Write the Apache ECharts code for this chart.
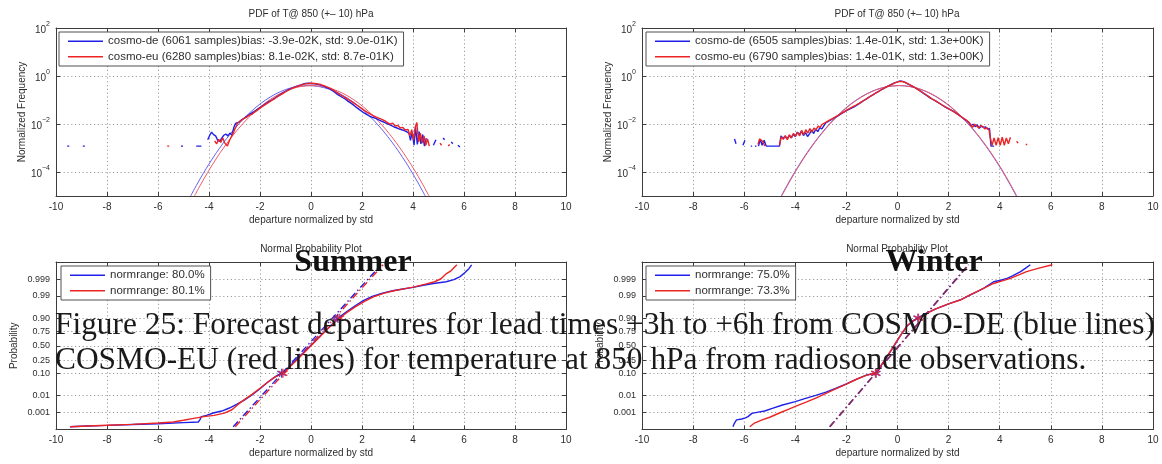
<!DOCTYPE html>
<html>
<head>
<meta charset="utf-8">
<script src="https://cdn.jsdelivr.net/npm/echarts@6/dist/echarts.min.js"></script>
<style>
  html, body { margin: 0; padding: 0; background: #ffffff; }
  #chart { width: 1162px; height: 464px; }
</style>
</head>
<body>
<div id="chart"></div>
<script>
// ---- text ----
const pdfTitle = 'PDF of T@ 850 (+\u2013 10) hPa';
const nppTitle = 'Normal Probability Plot';
const xName = 'departure normalized by std';
const pdfYName = 'Normalized Frequency';
const nppYName = 'Probability';
const seasonNames = ['Summer', 'Winter'];
const captionLines = [
  'Figure 25: Forecast departures for lead times +3h to +6h from COSMO-DE (blue lines)',
  'COSMO-EU (red lines) for temperature at 850 hPa from radiosonde observations.'
];
const summerPdfNames = ['cosmo-de (6061 samples)bias: -3.9e-02K, std: 9.0e-01K)', 'cosmo-eu (6280 samples)bias: 8.1e-02K, std: 8.7e-01K)'];
const winterPdfNames = ['cosmo-de (6505 samples)bias: 1.4e-01K, std: 1.3e+00K)', 'cosmo-eu (6790 samples)bias: 1.4e-01K, std: 1.3e+00K)'];
const summerNppNames = ['normrange: 80.0%', 'normrange: 80.1%'];
const winterNppNames = ['normrange: 75.0%', 'normrange: 73.3%'];

// probability tick labels and their normal quantiles
const probTicks = ['0.001', '0.01', '0.10', '0.25', '0.50', '0.75', '0.90', '0.99', '0.999'];
const probTickZ = [-3.0902, -2.3263, -1.2816, -0.6745, 0, 0.6745, 1.2816, 2.3263, 3.0902];

// ---- PDF panels: [departure, normalized frequency]; null breaks the line ----
const summerDePdf = [
  [-9.56,1.2e-3],[-9.48,1.2e-3],[-9.4,null],
  [-8.95,1.2e-3],[-8.87,1.2e-3],[-8.8,null],
  [-5.1,1.2e-3],[-5.02,1.2e-3],[-4.9,null],
  [-4.5,1.2e-3],[-4.3,1.2e-3],[-4.2,null],
  [-4.05,2.2e-3],[-3.97,3.4e-3],[-3.9,4.6e-3],[-3.82,3.6e-3],[-3.74,3.2e-3],[-3.66,2.1e-3],[-3.58,1.9e-3],[-3.5,2.6e-3],
  [-3.42,3.4e-3],[-3.34,3.8e-3],[-3.26,3.2e-3],[-3.18,4.2e-3],[-3.1,3.4e-3],[-3.02,7.5e-3],[-2.96,1.05e-2],[-2.9,9e-3],
  [-2.82,1.2e-2],[-2.72,1.5e-2],[-2.62,1.75e-2],[-2.52,2.1e-2],[-2.42,2.5e-2],[-2.32,2.9e-2],[-2.22,3.4e-2],[-2.12,4.0e-2],
  [-2.02,4.7e-2],[-1.9,5.7e-2],[-1.78,7.0e-2],[-1.66,8.5e-2],[-1.54,0.1],[-1.42,0.12],[-1.3,0.145],[-1.18,0.175],
  [-1.06,0.21],[-0.94,0.25],[-0.82,0.29],[-0.7,0.33],[-0.58,0.37],[-0.46,0.41],[-0.34,0.45],[-0.22,0.49],[-0.1,0.5],
  [0.02,0.49],[0.14,0.47],[0.26,0.45],[0.38,0.42],[0.5,0.38],[0.62,0.33],[0.74,0.29],[0.86,0.24],[0.98,0.19],
  [1.1,0.155],[1.22,0.13],[1.34,0.11],[1.46,0.088],[1.58,0.072],[1.7,0.058],[1.82,0.046],[1.94,0.037],[2.06,0.03],
  [2.18,0.025],[2.3,0.021],[2.42,0.019],[2.54,0.017],[2.66,0.015],[2.78,0.013],[2.9,0.0115],[3.02,0.0098],[3.14,0.0088],
  [3.26,0.0075],[3.38,0.0068],[3.5,0.006],[3.62,0.0055],[3.74,0.0048],[3.84,0.0042],[3.9,0.0021],[3.97,0.0045],
  [4.04,0.0013],[4.1,0.0075],[4.17,0.0014],[4.24,0.0048],[4.31,0.0015],[4.38,0.0036],[4.45,0.0012],[4.52,0.0026],[4.58,null],
  [4.8,1.3e-3],[4.9,2.2e-3],[4.95,null],
  [5.18,2.6e-3],[5.24,2.2e-3],[5.3,null],
  [5.5,1.8e-3],[5.56,1.5e-3],[5.6,null],
  [5.76,1.3e-3],[5.84,1.1e-3]
];
const summerEuPdf = [
  [-5.64,1.2e-3],[-5.56,1.2e-3],[-5.5,null],
  [-3.78,2.0e-3],[-3.7,1.5e-3],[-3.62,2.3e-3],[-3.54,1.7e-3],[-3.46,2.6e-3],[-3.38,1.6e-3],[-3.28,1.2e-3],[-3.2,2.0e-3],
  [-3.12,3.0e-3],[-3.04,4.4e-3],[-2.96,7e-3],[-2.88,1.1e-2],[-2.8,1.25e-2],[-2.7,1.5e-2],[-2.6,1.75e-2],[-2.5,2.0e-2],
  [-2.4,2.4e-2],[-2.3,2.6e-2],[-2.2,3.2e-2],[-2.1,3.8e-2],[-2.0,4.6e-2],[-1.9,5.4e-2],[-1.78,6.6e-2],[-1.66,8.0e-2],
  [-1.54,9.6e-2],[-1.42,0.115],[-1.3,0.14],[-1.18,0.168],[-1.06,0.2],[-0.94,0.24],[-0.82,0.28],[-0.7,0.32],[-0.58,0.36],
  [-0.46,0.4],[-0.34,0.44],[-0.22,0.47],[-0.1,0.49],[0.02,0.5],[0.14,0.49],[0.26,0.47],[0.38,0.44],[0.5,0.4],
  [0.62,0.355],[0.74,0.31],[0.86,0.265],[0.98,0.22],[1.1,0.18],[1.22,0.15],[1.34,0.125],[1.46,0.104],[1.58,0.087],
  [1.7,0.072],[1.82,0.059],[1.94,0.048],[2.06,0.039],[2.18,0.032],[2.3,0.027],[2.42,0.023],[2.54,0.02],[2.66,0.0175],
  [2.78,0.0155],[2.9,0.0135],[3.0,0.0115],[3.1,0.0098],[3.2,0.0108],[3.3,0.0082],[3.4,0.0088],[3.5,0.0068],[3.6,0.0072],
  [3.7,0.0056],[3.8,0.006],[3.88,0.0032],[3.95,0.0058],[4.02,0.0022],[4.09,0.0075],[4.15,0.0115],[4.22,0.0018],
  [4.29,0.0042],[4.36,0.0016],[4.43,0.0032],[4.5,0.0013],[4.57,0.0024],[4.64,0.0012],[4.7,null],
  [5.06,1.6e-3],[5.12,1.3e-3],[5.18,null],
  [5.38,1.2e-3],[5.44,1.4e-3]
];
const summerDeFit = [
  [-4.72,1e-5],[-4.5,2.7e-5],[-4.2,9.7e-5],[-3.8,4.6e-4],[-3.4,1.84e-3],[-3.0,6.3e-3],[-2.6,1.84e-2],[-2.2,4.6e-2],
  [-1.8,9.7e-2],[-1.4,0.176],[-1.0,0.271],[-0.6,0.356],[-0.12,0.399],[0.3,0.365],[0.7,0.285],[1.1,0.19],[1.5,0.107],
  [1.9,0.052],[2.3,2.13e-2],[2.7,7.5e-3],[3.1,2.24e-3],[3.5,5.7e-4],[3.9,1.24e-4],[4.2,3.5e-5],[4.48,1e-5]
];
const summerEuFit = [
  [-4.57,1e-5],[-4.35,2.7e-5],[-4.05,9.7e-5],[-3.65,4.6e-4],[-3.25,1.84e-3],[-2.85,6.3e-3],[-2.45,1.84e-2],[-2.05,4.6e-2],
  [-1.65,9.7e-2],[-1.25,0.176],[-0.85,0.271],[-0.45,0.356],[0.03,0.399],[0.45,0.365],[0.85,0.285],[1.25,0.19],[1.65,0.107],
  [2.05,0.052],[2.45,2.13e-2],[2.85,7.5e-3],[3.25,2.24e-3],[3.65,5.7e-4],[4.05,1.24e-4],[4.35,3.5e-5],[4.63,1e-5]
];
const winterDePdf = [
  [-6.38,2.4e-3],[-6.32,1.5e-3],[-6.25,null],
  [-6.05,1.3e-3],[-5.97,2.1e-3],[-5.9,null],
  [-5.74,1.2e-3],[-5.69,1.2e-3],[-5.64,null],
  [-5.58,1.2e-3],[-5.52,1.2e-3],[-5.47,null],
  [-5.44,1.2e-3],[-5.37,2.3e-3],[-5.3,1.3e-3],[-5.22,2.1e-3],[-5.14,1.2e-3],[-4.98,1.2e-3],[-4.8,1.2e-3],[-4.62,1.2e-3],
  [-4.56,3.2e-3],[-4.48,2.5e-3],[-4.4,3.1e-3],[-4.32,2.4e-3],[-4.24,3.3e-3],[-4.16,2.7e-3],[-4.08,3.7e-3],[-4.0,3.0e-3],
  [-3.92,4.6e-3],[-3.84,3.6e-3],[-3.76,5.0e-3],[-3.68,3.3e-3],[-3.6,4.4e-3],[-3.52,3.0e-3],[-3.44,4.0e-3],[-3.36,5.6e-3],
  [-3.28,4.0e-3],[-3.2,6.2e-3],[-3.12,4.8e-3],[-3.04,7.0e-3],[-2.96,6.2e-3],[-2.88,8.6e-3],[-2.8,1.15e-2],[-2.7,1.3e-2],
  [-2.6,1.5e-2],[-2.5,1.75e-2],[-2.4,2.0e-2],[-2.3,2.3e-2],[-2.2,2.7e-2],[-2.1,3.1e-2],[-2.0,3.6e-2],[-1.9,4.1e-2],
  [-1.8,4.6e-2],[-1.7,5.2e-2],[-1.56,6.4e-2],[-1.44,7.8e-2],[-1.32,9.5e-2],[-1.2,0.115],[-1.08,0.14],[-0.96,0.165],
  [-0.84,0.2],[-0.72,0.235],[-0.6,0.28],[-0.48,0.33],[-0.36,0.39],[-0.24,0.45],[-0.12,0.52],[0,0.57],[0.1,0.62],
  [0.2,0.6],[0.3,0.54],[0.42,0.46],[0.54,0.4],[0.66,0.34],[0.78,0.28],[0.9,0.235],[1.02,0.19],[1.14,0.155],
  [1.26,0.125],[1.38,0.105],[1.5,0.09],[1.62,0.075],[1.74,0.062],[1.86,0.052],[1.98,0.044],[2.1,0.038],[2.22,0.032],
  [2.34,0.026],[2.46,0.021],[2.58,0.017],[2.7,0.014],[2.8,0.0115],[2.88,0.0085],[2.96,0.0098],[3.04,0.0078],
  [3.12,0.0092],[3.2,0.0066],[3.28,0.0082],[3.36,0.0072],[3.44,0.0076],[3.52,0.0062],[3.6,0.0065],[3.66,0.0012],[3.78,0.0012]
];
const winterEuPdf = [
  [-5.46,1.4e-3],[-5.4,2.4e-3],[-5.33,2.6e-3],[-5.26,1.8e-3],[-5.2,1.2e-3],[-5.14,null],
  [-4.62,1.3e-3],[-4.55,2.9e-3],[-4.47,2.3e-3],[-4.39,3.3e-3],[-4.31,2.2e-3],[-4.23,3.6e-3],[-4.15,2.6e-3],[-4.07,4.1e-3],
  [-3.99,3.1e-3],[-3.91,4.5e-3],[-3.83,3.2e-3],[-3.75,5.4e-3],[-3.67,3.6e-3],[-3.59,5.8e-3],[-3.51,4.2e-3],[-3.43,6.4e-3],
  [-3.35,4.6e-3],[-3.27,6.8e-3],[-3.19,5.6e-3],[-3.11,8.2e-3],[-3.03,7.2e-3],[-2.95,9.6e-3],[-2.86,1.1e-2],[-2.76,1.25e-2],
  [-2.66,1.45e-2],[-2.56,1.65e-2],[-2.46,1.9e-2],[-2.36,2.2e-2],[-2.26,2.5e-2],[-2.14,3.0e-2],[-2.02,3.6e-2],[-1.9,4.3e-2],
  [-1.78,5.0e-2],[-1.64,6.0e-2],[-1.5,7.3e-2],[-1.36,9.0e-2],[-1.22,0.11],[-1.08,0.138],[-0.94,0.17],[-0.8,0.21],
  [-0.66,0.255],[-0.52,0.31],[-0.38,0.375],[-0.24,0.44],[-0.1,0.52],[0.04,0.58],[0.16,0.6],[0.28,0.55],[0.4,0.48],
  [0.52,0.41],[0.64,0.35],[0.76,0.29],[0.88,0.24],[1.0,0.2],[1.12,0.165],[1.24,0.135],[1.36,0.11],[1.48,0.094],
  [1.6,0.078],[1.72,0.065],[1.84,0.054],[1.96,0.046],[2.08,0.039],[2.2,0.033],[2.32,0.027],[2.44,0.022],[2.56,0.018],
  [2.68,0.0148],[2.78,0.0122],[2.86,0.0095],[2.94,0.0072],[3.02,0.0098],[3.1,0.0082],[3.18,0.0068],[3.26,0.0086],
  [3.34,0.0078],[3.42,0.0062],[3.5,0.007],[3.58,0.0058],[3.64,0.0024],[3.7,0.0013],[3.78,0.0026],[3.86,0.0013],
  [3.94,0.0027],[4.02,0.0013],[4.1,0.0028],[4.18,0.0013],[4.26,0.0026],[4.34,0.0015],[4.42,0.0028],[4.48,null],
  [4.66,1.9e-3],[4.72,1.6e-3],[4.78,null],
  [5.02,1.4e-3],[5.08,1.4e-3]
];
const winterDeFit = [
  [-4.55,1e-5],[-4.33,2.7e-5],[-4.03,9.7e-5],[-3.63,4.6e-4],[-3.23,1.84e-3],[-2.83,6.3e-3],[-2.43,1.84e-2],[-2.03,4.6e-2],
  [-1.63,9.7e-2],[-1.23,0.176],[-0.83,0.271],[-0.43,0.356],[0.05,0.399],[0.47,0.365],[0.87,0.285],[1.27,0.19],[1.67,0.107],
  [2.07,0.052],[2.47,2.13e-2],[2.87,7.5e-3],[3.27,2.24e-3],[3.67,5.7e-4],[4.07,1.24e-4],[4.37,3.5e-5],[4.65,1e-5]
];
const winterEuFit = [
  [-4.53,1e-5],[-4.31,2.7e-5],[-4.01,9.7e-5],[-3.61,4.6e-4],[-3.21,1.84e-3],[-2.81,6.3e-3],[-2.41,1.84e-2],[-2.01,4.6e-2],
  [-1.61,9.7e-2],[-1.21,0.176],[-0.81,0.271],[-0.41,0.356],[0.07,0.399],[0.49,0.365],[0.89,0.285],[1.29,0.19],[1.69,0.107],
  [2.09,0.052],[2.49,2.13e-2],[2.89,7.5e-3],[3.29,2.24e-3],[3.69,5.7e-4],[4.09,1.24e-4],[4.39,3.5e-5],[4.67,1e-5]
];

// ---- probability panels: [departure, normal quantile] ----
const summerDeNpp = [
  [-9.45,-3.77],[-8.8,-3.74],[-8.0,-3.71],[-7.0,-3.67],[-6.0,-3.63],[-5.0,-3.58],[-4.42,-3.55],[-4.36,-3.45],[-4.3,-3.3],
  [-4.1,-3.24],[-3.8,-3.12],[-3.5,-3.04],[-3.2,-2.9],[-2.9,-2.72],[-2.6,-2.52],[-2.3,-2.28],[-2.0,-2.0],[-1.7,-1.7],
  [-1.4,-1.44],[-1.15,-1.28],[-0.9,-1.02],[-0.6,-0.68],[-0.3,-0.33],[0.0,0.02],[0.3,0.38],[0.6,0.74],[0.85,1.02],
  [1.05,1.28],[1.35,1.55],[1.7,1.84],[2.05,2.1],[2.4,2.3],[2.8,2.45],[3.2,2.56],[3.6,2.64],[4.0,2.72],[4.4,2.82],
  [4.8,2.9],[5.3,2.98],[5.6,3.08],[5.85,3.22],[6.05,3.42],[6.2,3.6],[6.3,3.77]
];
const summerEuNpp = [
  [-9.45,-3.77],[-8.0,-3.7],[-7.0,-3.66],[-6.0,-3.6],[-5.4,-3.55],[-5.0,-3.47],[-4.6,-3.38],[-4.2,-3.3],[-3.8,-3.24],
  [-3.4,-3.14],[-3.1,-2.98],[-2.85,-2.72],[-2.6,-2.5],[-2.3,-2.25],[-2.0,-1.98],[-1.7,-1.7],[-1.4,-1.45],[-1.1,-1.28],
  [-0.85,-1.0],[-0.55,-0.66],[-0.25,-0.3],[0.05,0.06],[0.35,0.42],[0.65,0.78],[0.9,1.06],[1.12,1.28],[1.4,1.54],
  [1.75,1.82],[2.1,2.07],[2.45,2.28],[2.85,2.44],[3.25,2.56],[3.65,2.65],[4.05,2.74],[4.45,2.86],[4.85,2.98],
  [5.1,3.12],[5.3,3.35],[5.5,3.5],[5.72,3.77]
];
const summerDeRef = [[-3.05,-3.77],[2.75,3.77]];
const summerEuRef = [[-2.97,-3.77],[2.83,3.77]];
const summerDeRange = [[-1.15,-1.2816],[1.05,1.2816]];
const summerEuRange = [[-1.1,-1.2816],[1.12,1.2816]];

const winterDeNpp = [
  [-6.44,-3.77],[-6.38,-3.6],[-6.3,-3.45],[-6.1,-3.41],[-5.95,-3.36],[-5.85,-3.3],[-5.7,-3.15],[-5.45,-3.09],
  [-5.2,-3.04],[-4.9,-2.92],[-4.5,-2.76],[-4.0,-2.6],[-3.6,-2.45],[-3.2,-2.31],[-2.8,-2.16],[-2.4,-1.98],[-2.0,-1.78],
  [-1.6,-1.55],[-1.2,-1.36],[-0.84,-1.26],[-0.6,-0.85],[-0.4,-0.5],[-0.2,-0.13],[0.0,0.25],[0.2,0.62],[0.4,0.95],
  [0.6,1.15],[0.8,1.3],[1.1,1.5],[1.5,1.72],[2.0,1.95],[2.5,2.16],[3.0,2.45],[3.4,2.7],[3.76,2.98],[4.0,3.04],
  [4.29,3.14],[4.5,3.25],[4.82,3.45],[5.0,3.6],[5.2,3.77]
];
const winterEuNpp = [
  [-5.78,-3.77],[-5.6,-3.6],[-5.3,-3.45],[-5.0,-3.33],[-4.6,-3.12],[-4.3,-2.97],[-3.95,-2.8],[-3.6,-2.64],[-3.2,-2.44],
  [-2.8,-2.22],[-2.4,-2.0],[-2.0,-1.79],[-1.6,-1.56],[-1.2,-1.37],[-0.86,-1.27],[-0.62,-0.88],[-0.42,-0.52],[-0.22,-0.15],
  [-0.02,0.24],[0.18,0.6],[0.38,0.93],[0.58,1.14],[0.82,1.29],[1.1,1.48],[1.5,1.72],[2.0,1.95],[2.46,2.13],[2.85,2.38],
  [3.25,2.6],[3.76,2.9],[4.1,3.02],[4.42,3.14],[4.75,3.3],[5.05,3.45],[5.5,3.6],[6.06,3.77]
];
const winterDeRef = [[-2.66,-3.77],[2.77,3.77]];
const winterEuRef = [[-2.64,-3.77],[2.79,3.77]];
const winterDeRange = [[-0.84,-1.2816],[0.8,1.2816]];
const winterEuRange = [[-0.86,-1.2816],[0.82,1.2816]];

// ---- styling ----
const sans = "'Liberation Sans', Arial, sans-serif";
const serif = "'Liberation Serif', 'Times New Roman', serif";
const axisColor = '#3c3c3c';
const labelColor = '#2e2e2e';
const gridColor = '#9c9c9c';
const blue = '#2020e8';
const red = '#ec2424';
const blueFit = '#6262ee';
const redFit = '#ee5a66';

const panels = [
  { left: 56, top: 28, width: 510, height: 168 },
  { left: 642, top: 28, width: 511, height: 168 },
  { left: 56, top: 262, width: 510, height: 167.5 },
  { left: 642, top: 262, width: 511, height: 167.5 }
];

const axisLine = { onZero: false, lineStyle: { color: axisColor, width: 1 } };
const tick = { inside: true, length: 4, lineStyle: { color: axisColor } };
const dotted = { show: true, lineStyle: { color: gridColor, width: 1, type: [1.2, 2.6] } };

function xAxesFor(g) {
  return [
    { type: 'value', gridIndex: g, min: -10, max: 10, interval: 2, position: 'bottom',
      name: xName, nameLocation: 'middle', nameGap: 19,
      nameTextStyle: { fontFamily: sans, fontSize: 10, color: labelColor },
      axisLine, axisTick: tick,
      axisLabel: { margin: 6, fontFamily: sans, fontSize: 10, color: labelColor },
      splitLine: dotted },
    { type: 'value', gridIndex: g, min: -10, max: 10, interval: 2, position: 'top',
      axisLine, axisTick: tick, axisLabel: { show: false }, splitLine: { show: false } }
  ];
}

function powLabel(v) {
  const e = Math.round(Math.log10(v));
  return '{b|10}{s|' + (e < 0 ? '\u2212' + (-e) : e) + '}';
}
const powRich = {
  b: { fontFamily: sans, fontSize: 10, color: labelColor, verticalAlign: 'bottom', lineHeight: 15 },
  s: { fontFamily: sans, fontSize: 7, color: labelColor, verticalAlign: 'top', lineHeight: 15 }
};

function logYAxesFor(g) {
  const base = { type: 'log', gridIndex: g, logBase: 100, min: 1e-5, max: 100 };
  return [
    Object.assign({}, base, { position: 'left', name: pdfYName, nameLocation: 'middle', nameGap: 29,
      nameTextStyle: { fontFamily: sans, fontSize: 10, color: labelColor },
      axisLine, axisTick: tick,
      axisLabel: { margin: 6, showMinLabel: false, formatter: powLabel, rich: powRich },
      splitLine: dotted }),
    Object.assign({}, base, { position: 'right', axisLine, axisTick: tick,
      axisLabel: { show: false }, splitLine: { show: false } })
  ];
}

function probLabel(v) {
  for (let i = 0; i < probTickZ.length; i++) {
    if (Math.abs(probTickZ[i] - v) < 1e-6) return probTicks[i];
  }
  return '';
}

function probYAxesFor(g) {
  const base = { type: 'value', gridIndex: g, min: -3.9, max: 3.9 };
  return [
    Object.assign({}, base, { position: 'left', name: nppYName, nameLocation: 'middle', nameGap: 37,
      nameTextStyle: { fontFamily: sans, fontSize: 10, color: labelColor },
      axisLine, axisTick: Object.assign({ customValues: probTickZ }, tick),
      axisLabel: { customValues: probTickZ, margin: 6, formatter: probLabel,
        fontFamily: sans, fontSize: 9, color: labelColor },
      splitLine: dotted }),
    Object.assign({}, base, { position: 'right', axisLine,
      axisTick: Object.assign({ customValues: probTickZ }, tick),
      axisLabel: { show: false }, splitLine: { show: false } })
  ];
}

function lineSeries(name, data, axis, color, width, extra) {
  return Object.assign({
    type: 'line', name, data, xAxisIndex: axis, yAxisIndex: axis,
    showSymbol: false, symbol: 'none', connectNulls: false, clip: true,
    lineStyle: { color, width }, itemStyle: { color }, silent: true, animation: false
  }, extra || {});
}

const asterisk = 'path://M5,0L5,10M0.67,2.5L9.33,7.5M0.67,7.5L9.33,2.5';
function starSeries(name, data, axis, color) {
  return {
    type: 'scatter', name, data, xAxisIndex: axis, yAxisIndex: axis,
    symbol: asterisk, symbolSize: 9, silent: true, animation: false, z: 4,
    itemStyle: { color: 'rgba(0,0,0,0)', borderColor: color, borderWidth: 1.4 }
  };
}

const dashDot = [7, 3, 1.5, 3];

const series = [
  // summer PDF (axes 0)
  lineSeries('cosmo-de fit, summer', summerDeFit, 0, blueFit, 1, { smooth: 0.3 }),
  lineSeries('cosmo-eu fit, summer', summerEuFit, 0, redFit, 1, { smooth: 0.3 }),
  lineSeries(summerPdfNames[0], summerDePdf, 0, blue, 1.4),
  lineSeries(summerPdfNames[1], summerEuPdf, 0, red, 1.4),
  // winter PDF (axes 2)
  lineSeries('cosmo-de fit, winter', winterDeFit, 2, blueFit, 1, { smooth: 0.3 }),
  lineSeries('cosmo-eu fit, winter', winterEuFit, 2, redFit, 1, { smooth: 0.3 }),
  lineSeries(winterPdfNames[0], winterDePdf, 2, blue, 1.4),
  lineSeries(winterPdfNames[1], winterEuPdf, 2, red, 1.4),
  // summer probability plot (axes 4)
  lineSeries('cosmo-de reference, summer', summerDeRef, 4, blue, 1.4, { lineStyle: { color: blue, width: 1.4, type: dashDot } }),
  lineSeries('cosmo-eu reference, summer', summerEuRef, 4, red, 1.4, { lineStyle: { color: red, width: 1.4, type: dashDot } }),
  lineSeries(summerNppNames[0], summerDeNpp, 4, blue, 1.4),
  lineSeries(summerNppNames[1], summerEuNpp, 4, red, 1.4),
  starSeries('cosmo-de normrange, summer', summerDeRange, 4, blue),
  starSeries('cosmo-eu normrange, summer', summerEuRange, 4, red),
  // winter probability plot (axes 6)
  lineSeries('cosmo-de reference, winter', winterDeRef, 6, '#5a2a90', 1.4, { lineStyle: { color: '#5a2a90', width: 1.4, type: dashDot } }),
  lineSeries('cosmo-eu reference, winter', winterEuRef, 6, '#8a2a60', 1.4, { lineStyle: { color: '#8a2a60', width: 1.4, type: dashDot } }),
  lineSeries(winterNppNames[0], winterDeNpp, 6, blue, 1.4),
  lineSeries(winterNppNames[1], winterEuNpp, 6, red, 1.4),
  starSeries('cosmo-de normrange, winter', winterDeRange, 6, blue),
  starSeries('cosmo-eu normrange, winter', winterEuRange, 6, red)
];

function legendFor(names, left, top) {
  return {
    data: names, left, top, orient: 'vertical', selectedMode: false,
    icon: 'rect', itemWidth: 35, itemHeight: 1.6, itemGap: 3,
    padding: [3, 6, 3, 9], borderColor: '#505050', borderWidth: 1, backgroundColor: '#ffffff',
    textStyle: { fontFamily: sans, fontSize: 11.5, color: labelColor, lineHeight: 12.5 }, z: 6
  };
}

function titleFor(text, cx, top) {
  return { text, left: cx, top, textAlign: 'center', padding: 0,
    textStyle: { fontFamily: sans, fontSize: 10, fontWeight: 'normal', color: labelColor } };
}

const option = {
  animation: false,
  backgroundColor: '#ffffff',
  title: [
    titleFor(pdfTitle, 311, 9),
    titleFor(pdfTitle, 897, 9),
    titleFor(nppTitle, 311, 244),
    titleFor(nppTitle, 897, 244)
  ],
  grid: panels.map(p => Object.assign({ containLabel: false }, p)),
  xAxis: [].concat(xAxesFor(0), xAxesFor(1), xAxesFor(2), xAxesFor(3)),
  yAxis: [].concat(logYAxesFor(0), logYAxesFor(1), probYAxesFor(2), probYAxesFor(3)),
  legend: [
    legendFor(summerPdfNames, 59, 32),
    legendFor(winterPdfNames, 646, 32),
    legendFor(summerNppNames, 61, 266),
    legendFor(winterNppNames, 646, 266)
  ],
  series,
  graphic: [
    { type: 'text', x: 353, y: 263, z: 100,
      style: { text: seasonNames[0], font: "bold 32px " + serif, fill: '#111111', align: 'center', verticalAlign: 'middle' } },
    { type: 'text', x: 934, y: 263, z: 100,
      style: { text: seasonNames[1], font: "bold 32px " + serif, fill: '#111111', align: 'center', verticalAlign: 'middle' } },
    { type: 'text', x: 55, y: 326, z: 100,
      style: { text: captionLines[0], font: "31.4px " + serif, fill: '#1a1a1a', align: 'left', verticalAlign: 'middle' } },
    { type: 'text', x: 55, y: 361, z: 100,
      style: { text: captionLines[1], font: "31.4px " + serif, fill: '#1a1a1a', align: 'left', verticalAlign: 'middle' } }
  ]
};

const chart = echarts.init(document.getElementById('chart'), null, { renderer: 'canvas' });
chart.setOption(option);
</script>
</body>
</html>
